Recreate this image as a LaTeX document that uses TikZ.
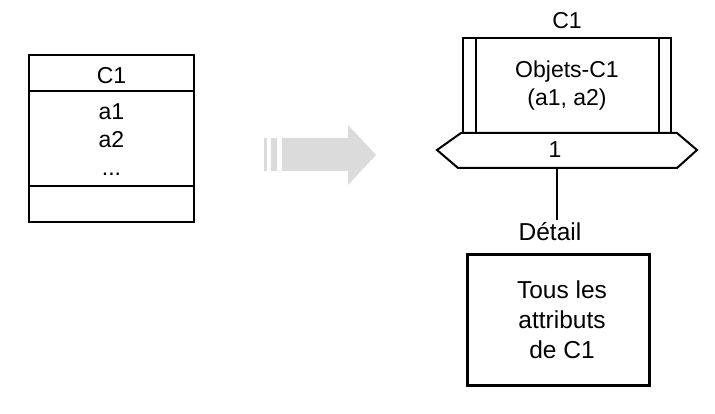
\documentclass[tikz,border=0pt]{standalone}
\usepackage{fontspec}
\setmainfont{Liberation Sans}
\usetikzlibrary{positioning}
\tikzset{
  lbl/.style={font=\fontsize{23}{28}\selectfont, align=center, inner sep=0pt},
  grand/.style={lbl, font=\fontsize{24.5}{30}\selectfont},
  boite/.style={draw, line width=2pt},
}
\begin{document}
\begin{tikzpicture}[x=1pt, y=-1pt, line join=miter]
            \useasboundingbox (0,0) rectangle (715,414);
            % classe C1 a gauche
            \draw[boite] (29,55) rectangle (194,222);
            \draw[boite] (29,91) -- (194,91);
            \draw[boite] (29,186) -- (194,186);
            \node[lbl] (nomC) at (111.5,76) {C1};
            \node[lbl] (attrs) at (111.5,140) {a1\\a2\\...};
            % fleche grise
            \fill[gray!28] (264,138) rectangle (267,171);
            \fill[gray!28] (271,138) rectangle (277,171);
            \fill[gray!28] (282,138) -- (348,138) -- (348,125) -- (376,155) -- (348,185) -- (348,171) -- (282,171) -- cycle;
            % ensemble d'objets C1
            \node[lbl] (titre) at (567,21) {C1};
            \draw[boite] (463,38) rectangle (671,133);
            \draw[boite] (476,38) -- (476,133);
            \draw[boite] (659,38) -- (659,133);
            \node[lbl] (objets) at (567,86) {Objets-C1\\(a1, a2)};
            \draw[boite] (437,150) -- (461,133) -- (677,133) -- (697,150) -- (677,168) -- (458,168) -- cycle;
            \node[lbl] (card) at (555,150) {1};
            \coordinate (hexbas) at (557,168);
            \node[grand] (detail) at (550,232) {Détail};
            \draw[boite] (hexbas) -- (hexbas |- 0,220);
            % rectangle du detail
            \draw[line width=3pt] (467,255) rectangle (649,385);
            \node[grand] (tous) at (562,320) {Tous les\\attributs\\de C1};
\end{tikzpicture}
\end{document}
